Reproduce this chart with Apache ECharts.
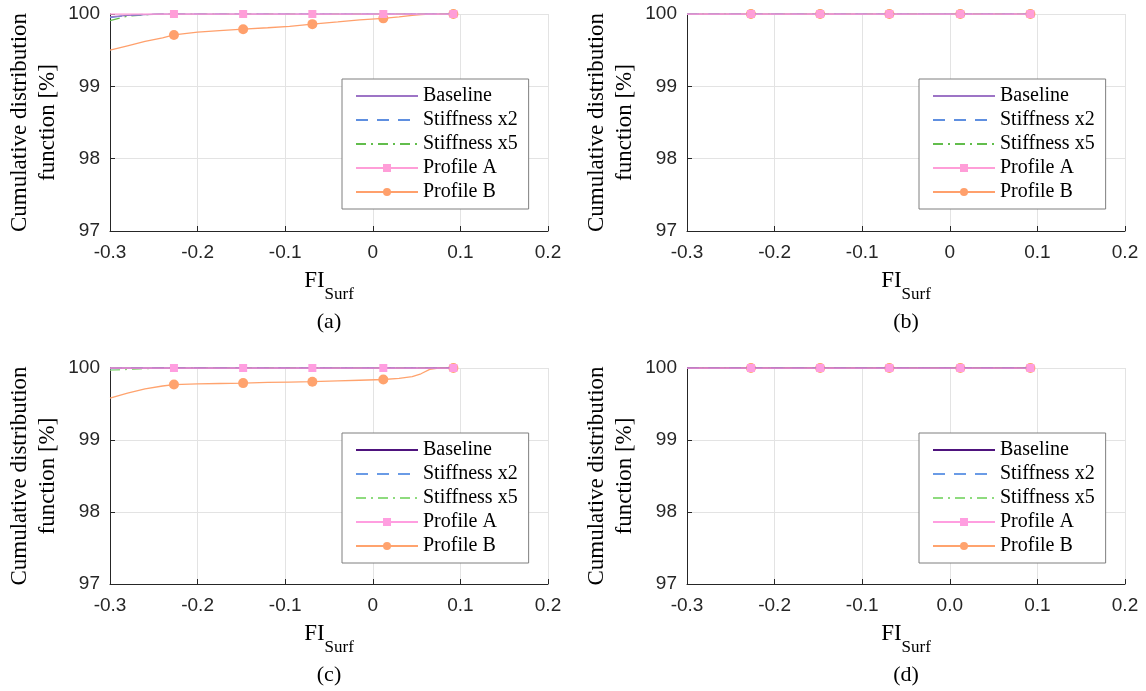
<!DOCTYPE html>
<html>
<head>
<meta charset="utf-8">
<script src="https://cdn.jsdelivr.net/npm/echarts@6/dist/echarts.min.js"></script>
<style>
  html, body { margin: 0; padding: 0; background: #fff; }
  #chart { width: 1146px; height: 691px; }
</style>
</head>
<body>
<div id="chart"></div>
<script>
// FI_Surf sample points shared by every curve
const fiSurf = [-0.3, -0.28, -0.26, -0.24, -0.227, -0.2, -0.175, -0.148, -0.12, -0.095,
                -0.069, -0.04, -0.015, 0.012, 0.03, 0.045, 0.055, 0.065, 0.075, 0.092];
// indices of the samples that carry a marker
const markerIdx = [4, 7, 10, 13, 19];

const seriesNames = ['Baseline', 'Stiffness x2', 'Stiffness x5', 'Profile A', 'Profile B'];
const panelLetters = ['(a)', '(b)', '(c)', '(d)'];
const yTickLabels = ['97', '98', '99', '100'];
const xTickLabels = ['-0.3', '-0.2', '-0.1', '0', '0.1', '0.2'];
const xTickLabelsD = ['-0.3', '-0.2', '-0.1', '0.0', '0.1', '0.2'];

// CDF values [%], panel (a)
const aBaseline  = [99.96, 99.98, 99.99, 100, 100, 100, 100, 100, 100, 100, 100, 100, 100, 100, 100, 100, 100, 100, 100, 100];
const aStiff2    = [99.95, 99.98, 99.995, 100, 100, 100, 100, 100, 100, 100, 100, 100, 100, 100, 100, 100, 100, 100, 100, 100];
const aStiff5    = [99.91, 99.97, 99.99, 100, 100, 100, 100, 100, 100, 100, 100, 100, 100, 100, 100, 100, 100, 100, 100, 100];
const aProfileA  = [100, 100, 100, 100, 100, 100, 100, 100, 100, 100, 100, 100, 100, 100, 100, 100, 100, 100, 100, 100];
const aProfileB  = [99.5, 99.56, 99.62, 99.67, 99.71, 99.75, 99.77, 99.79, 99.81, 99.83,
                    99.86, 99.89, 99.92, 99.94, 99.96, 99.98, 99.99, 100, 100, 100];
// panel (b)
const bBaseline  = [100, 100, 100, 100, 100, 100, 100, 100, 100, 100, 100, 100, 100, 100, 100, 100, 100, 100, 100, 100];
const bStiff2    = [100, 100, 100, 100, 100, 100, 100, 100, 100, 100, 100, 100, 100, 100, 100, 100, 100, 100, 100, 100];
const bStiff5    = [100, 100, 100, 100, 100, 100, 100, 100, 100, 100, 100, 100, 100, 100, 100, 100, 100, 100, 100, 100];
const bProfileA  = [100, 100, 100, 100, 100, 100, 100, 100, 100, 100, 100, 100, 100, 100, 100, 100, 100, 100, 100, 100];
const bProfileB  = [100, 100, 100, 100, 100, 100, 100, 100, 100, 100, 100, 100, 100, 100, 100, 100, 100, 100, 100, 100];
// panel (c)
const cBaseline  = [100, 100, 100, 100, 100, 100, 100, 100, 100, 100, 100, 100, 100, 100, 100, 100, 100, 100, 100, 100];
const cStiff2    = [99.99, 100, 100, 100, 100, 100, 100, 100, 100, 100, 100, 100, 100, 100, 100, 100, 100, 100, 100, 100];
const cStiff5    = [99.97, 99.98, 99.99, 100, 100, 100, 100, 100, 100, 100, 100, 100, 100, 100, 100, 100, 100, 100, 100, 100];
const cProfileA  = [100, 100, 100, 100, 100, 100, 100, 100, 100, 100, 100, 100, 100, 100, 100, 100, 100, 100, 100, 100];
const cProfileB  = [99.58, 99.65, 99.71, 99.75, 99.77, 99.78, 99.785, 99.79, 99.8, 99.805,
                    99.81, 99.82, 99.83, 99.84, 99.855, 99.88, 99.92, 99.98, 100, 100];
// panel (d)
const dBaseline  = [100, 100, 100, 100, 100, 100, 100, 100, 100, 100, 100, 100, 100, 100, 100, 100, 100, 100, 100, 100];
const dStiff2    = [100, 100, 100, 100, 100, 100, 100, 100, 100, 100, 100, 100, 100, 100, 100, 100, 100, 100, 100, 100];
const dStiff5    = [100, 100, 100, 100, 100, 100, 100, 100, 100, 100, 100, 100, 100, 100, 100, 100, 100, 100, 100, 100];
const dProfileA  = [100, 100, 100, 100, 100, 100, 100, 100, 100, 100, 100, 100, 100, 100, 100, 100, 100, 100, 100, 100];
const dProfileB  = [100, 100, 100, 100, 100, 100, 100, 100, 100, 100, 100, 100, 100, 100, 100, 100, 100, 100, 100, 100];

const panelValues = [
  [aBaseline, aStiff2, aStiff5, aProfileA, aProfileB],
  [bBaseline, bStiff2, bStiff5, bProfileA, bProfileB],
  [cBaseline, cStiff2, cStiff5, cProfileA, cProfileB],
  [dBaseline, dStiff2, dStiff5, dProfileA, dProfileB]
];

// two colour sets: top row and bottom row
const paletteTop    = ['#9d74c6', '#5f8fe0', '#62bd4c', '#ff9ed8', '#ffa06c'];
const paletteBottom = ['#4e137d', '#6a9be6', '#8edb7e', '#ff9ee0', '#ffa36e'];
const panelPalettes = [paletteTop, paletteTop, paletteBottom, paletteBottom];

const lineTypes = ['solid', [12, 9], [10, 5, 2, 5], 'solid', 'solid'];
const symbols = ['none', 'none', 'none', 'rect', 'circle'];
const symbolSizes = [0, 0, 0, 8, 10];
const zOrder = [3, 3, 3, 5, 2];

const grids = [
  { left: 110, top: 14, width: 438, height: 217 },
  { left: 687, top: 14, width: 438, height: 217 },
  { left: 110, top: 368, width: 438, height: 216 },
  { left: 687, top: 368, width: 438, height: 216 }
];

const tickFont = 'Liberation Sans';
const serif = 'Liberation Serif';
const axisDark = '#262626';

const option = {
  backgroundColor: '#fff',
  animation: false,
  grid: grids.map(g => Object.assign({ containLabel: false }, g)),
  xAxis: grids.map((g, p) => ({
    gridIndex: p,
    type: 'value',
    min: -0.3, max: 0.2, interval: 0.1,
    axisLine: { show: true, onZero: false, lineStyle: { color: axisDark, width: 1 } },
    axisTick: { show: true, inside: true, length: 5, lineStyle: { color: axisDark } },
    splitLine: { show: true, lineStyle: { color: '#e3e3e3', width: 1 } },
    axisLabel: {
      margin: 12, fontFamily: tickFont, fontSize: 19, color: axisDark,
      formatter: v => (p === 3 ? xTickLabelsD : xTickLabels)[Math.round((v + 0.3) / 0.1)]
    },
    name: '{fi|FI}{sub|Surf}',
    nameLocation: 'middle',
    nameGap: 38,
    nameTextStyle: {
      rich: {
        fi: { fontFamily: serif, fontSize: 23, color: '#000', verticalAlign: 'top', lineHeight: 23 },
        sub: { fontFamily: serif, fontSize: 17, color: '#000', verticalAlign: 'top', padding: [17, 0, 0, 0] }
      }
    }
  })),
  yAxis: grids.map((g, p) => ({
    gridIndex: p,
    type: 'value',
    min: 97, max: 100, interval: 1,
    axisLine: { show: true, onZero: false, lineStyle: { color: axisDark, width: 1 } },
    axisTick: { show: true, inside: true, length: 5, lineStyle: { color: axisDark } },
    splitLine: { show: true, lineStyle: { color: '#e3e3e3', width: 1 } },
    axisLabel: {
      margin: 10, fontFamily: tickFont, fontSize: 19, color: axisDark,
      formatter: v => yTickLabels[Math.round(v - 97)]
    },
    name: 'Cumulative distribution\nfunction [%]',
    nameLocation: 'middle',
    nameGap: 48,
    nameTextStyle: { fontFamily: serif, fontSize: 23, lineHeight: 28, color: '#000' }
  })),
  legend: grids.map((g, p) => ({
    orient: 'vertical',
    left: g.left + 232,
    top: g.top + 65,
    padding: [5, 11, 5, 13],
    itemGap: 0,
    itemWidth: 62,
    itemHeight: 10,
    borderColor: '#7f7f7f',
    borderWidth: 1,
    backgroundColor: '#fff',
    selectedMode: false,
    textStyle: { fontFamily: serif, fontSize: 20, lineHeight: 24, color: '#000' },
    formatter: name => name.split('|')[1],
    data: seriesNames.map((n, k) => ({
      name: p + '|' + n,
      itemStyle: k < 3 ? { opacity: 0 } : undefined
    }))
  })),
  series: [],
  graphic: grids.map((g, p) => ({
    type: 'text',
    x: g.left + g.width / 2,
    y: g.top + g.height + 91,
    style: {
      text: panelLetters[p], fontFamily: serif, fontSize: 22, fill: '#000',
      align: 'center', verticalAlign: 'middle'
    }
  }))
};

panelValues.forEach((vals, p) => {
  // draw order: Profile B first, Profile A last so it sits on top
  [4, 2, 1, 0, 3].forEach(k => {
    const color = panelPalettes[p][k];
    option.series.push({
      name: p + '|' + seriesNames[k],
      type: 'line',
      xAxisIndex: p,
      yAxisIndex: p,
      z: zOrder[k],
      color: color,
      symbol: symbols[k] === 'none' ? 'none' : symbols[k],
      symbolSize: symbolSizes[k],
      showSymbol: symbols[k] !== 'none',
      showAllSymbol: true,
      clip: true,
      lineStyle: { color: color, width: 1.3, type: lineTypes[k] },
      itemStyle: { color: color },
      emphasis: { disabled: true },
      data: fiSurf.map((x, i) => {
        const item = { value: [x, vals[k][i]] };
        if (symbols[k] !== 'none' && markerIdx.indexOf(i) < 0) item.symbol = 'none';
        return item;
      })
    });
  });
});

const chart = echarts.init(document.getElementById('chart'), null, { renderer: 'canvas' });
chart.setOption(option);
</script>
</body>
</html>
